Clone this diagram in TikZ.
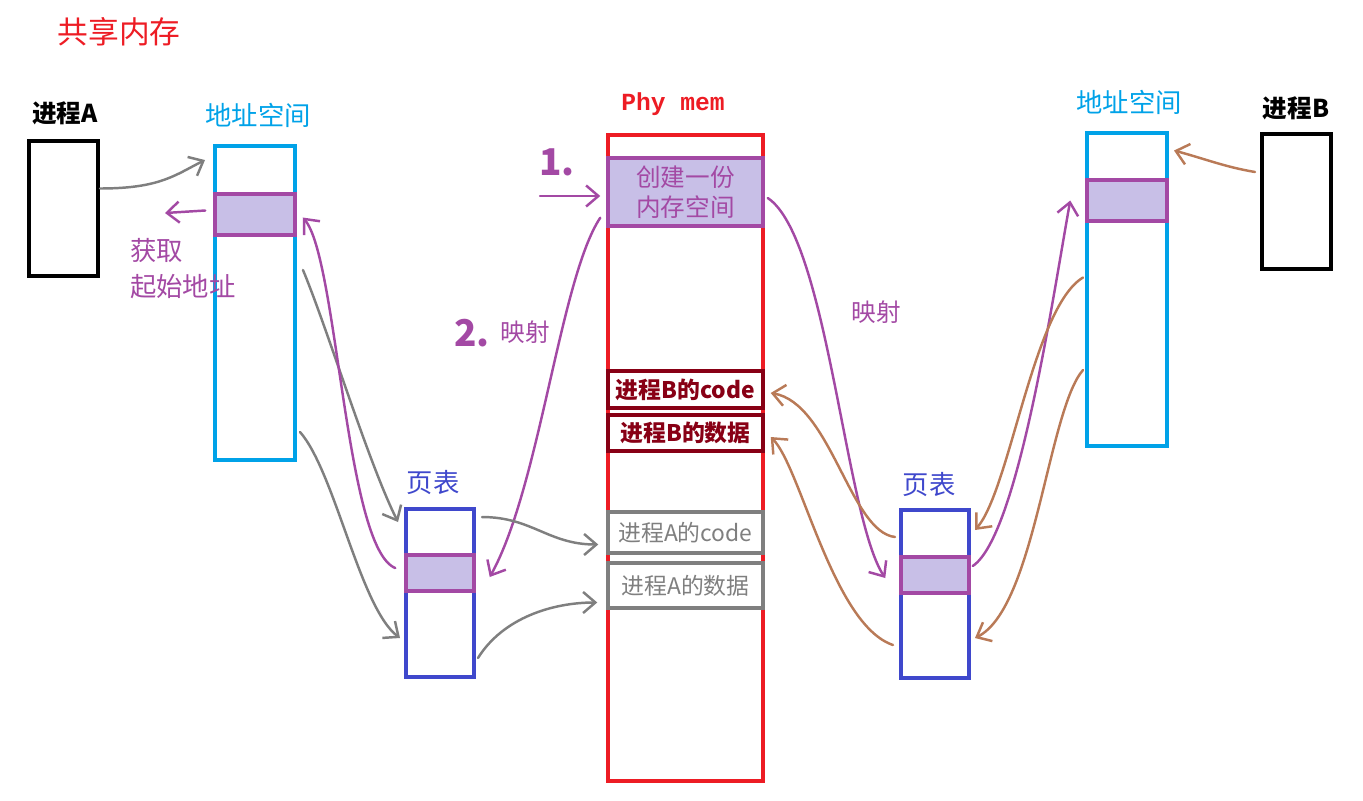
\documentclass[tikz,border=0pt]{standalone}
\usepackage{fontspec}
\setmainfont{Noto Sans CJK SC}
\newfontfamily\monofont{Liberation Mono}
\usetikzlibrary{arrows.meta, calc}

\definecolor{shmred}{RGB}{237, 28, 36}
\definecolor{addrcyan}{RGB}{0, 162, 232}
\definecolor{mapviolet}{RGB}{163, 73, 164}
\definecolor{blklilac}{RGB}{200, 191, 231}
\definecolor{pageblue}{RGB}{63, 72, 204}
\definecolor{codedark}{RGB}{136, 0, 21}
\definecolor{linkgray}{RGB}{127, 127, 127}
\definecolor{linkbrown}{RGB}{185, 122, 87}

\begin{document}
\begin{tikzpicture}[
        x=0.02cm, y=-0.02cm,
        procbox/.style={draw=black, line width=0.08cm, minimum width=1.38cm, minimum height=2.70cm, inner sep=0pt},
        addrbox/.style={draw=addrcyan, line width=0.08cm, minimum width=1.60cm, minimum height=6.28cm, inner sep=0pt},
        pagebox/.style={draw=pageblue, line width=0.08cm, minimum width=1.36cm, minimum height=3.36cm, inner sep=0pt},
        membox/.style={draw=shmred, line width=0.08cm, minimum width=3.10cm, minimum height=12.92cm, inner sep=0pt},
        blk/.style={draw=mapviolet, fill=blklilac, line width=0.07cm, inner sep=0pt},
        seg/.style={fill=white, line width=0.07cm, minimum width=3.10cm, inner sep=0pt, align=center},
        lbl/.style={font=\fontsize{15}{17}\selectfont},
        link/.style={-{Straight Barb[length=7pt, width=12pt]}, line width=1.4pt, line cap=round}
    ]
        \useasboundingbox (0,0) rectangle (1363,801);

        % Title
        \node[text=shmred, font=\fontsize{17.5}{19}\selectfont] (title) at (119,32) {共享内存};

        % Process A, its address space and page table
        \node[lbl, font=\bfseries\fontsize{14}{16}\selectfont] (labA) at (65,113) {进程A};
        \node[procbox] (procA) at (63.5,208.5) {};

        \node[lbl, text=addrcyan] (labAddrA) at (258,115) {地址空间};
        \node[addrbox] (addrA) at (255,303) {};
        \node[blk, minimum width=1.60cm, minimum height=0.82cm] (addrAblk) at (255,214.5) {};

        \node[lbl, text=mapviolet, align=left, anchor=north west, font=\fontsize{15}{20.5}\selectfont] (getA) at (124,232) {获取\\起始地址};
        \coordinate (getend) at (165,213);

        \node[lbl, text=pageblue] (labPageA) at (433,483) {页表};
        \node[pagebox] (pageA) at (440,593) {};
        \node[blk, minimum width=1.36cm, minimum height=0.72cm] (pageAblk) at (440,573) {};

        % Physical memory
        \node[text=shmred, font=\monofont\bfseries\fontsize{14}{16}\selectfont] (labPhy) at (673,104) {Phy mem};
        \node[membox] (phy) at (685.5,458) {};
        \node[blk, minimum width=3.10cm, minimum height=1.36cm, align=center, text=mapviolet,
              font=\fontsize{14}{17}\selectfont] (shm) at (685.5,192) {创建一份\\内存空间};
        \node[seg, draw=codedark, text=codedark, minimum height=0.74cm, font=\bfseries\fontsize{13}{15}\selectfont] (Bcode) at (685.5,389.5) {进程B的code};
        \node[seg, draw=codedark, text=codedark, minimum height=0.72cm, font=\bfseries\fontsize{13}{15}\selectfont] (Bdata) at (685.5,433) {进程B的数据};
        \node[seg, draw=linkgray, text=linkgray, minimum height=0.82cm, font=\fontsize{13}{15}\selectfont] (Acode) at (685.5,532.5) {进程A的code};
        \node[seg, draw=linkgray, text=linkgray, minimum height=0.90cm, font=\fontsize{13}{15}\selectfont] (Adata) at (685.5,585.5) {进程A的数据};

        % Step numbers
        \node[text=mapviolet, font=\bfseries\fontsize{21}{23}\selectfont] (num1) at (557,162) {1.};
        \coordinate (stepstart) at (540,196);
        \node[text=mapviolet, font=\bfseries\fontsize{21}{23}\selectfont] (num2) at (472,333) {2.};
        \node[text=mapviolet, font=\fontsize{14}{16}\selectfont] (mapA) at (525,332) {映射};
        \node[text=mapviolet, font=\fontsize{14}{16}\selectfont] (mapB) at (876,312) {映射};

        % Process B, its address space and page table
        \node[lbl, font=\bfseries\fontsize{14}{16}\selectfont] (labB) at (1296,108) {进程B};
        \node[procbox] (procB) at (1296.5,201.5) {};

        \node[lbl, text=addrcyan] (labAddrB) at (1129,102) {地址空间};
        \node[addrbox] (addrB) at (1127,289.5) {};
        \node[blk, minimum width=1.60cm, minimum height=0.82cm] (addrBblk) at (1127,200.5) {};

        \node[lbl, text=pageblue] (labPageB) at (929,485) {页表};
        \node[pagebox] (pageB) at (935,594) {};
        \node[blk, minimum width=1.36cm, minimum height=0.72cm] (pageBblk) at (935,575) {};

        % Left side links
        \draw[link, linkgray] ($(procA.east)+(0,-20)$) .. controls +(60,0) and +(-30,15) .. ($(addrA.north west)+(-8,16)$);
        \draw[link, mapviolet] ($(addrAblk.west)+(-8,-4)$) -- (getend);
        \draw[link, linkgray] ($(addrA.north east)+(6,126)$) .. controls +(25,60) and +(-30,-60) .. ($(pageA.north west)+(-6,15)$);
        \draw[link, linkgray] ($(addrA.south east)+(3,-30)$) .. controls +(35,40) and +(-40,-30) .. ($(pageA.west)+(-4,45)$);
        \draw[link, mapviolet] ($(pageAblk.west)+(-9,-5)$) .. controls +(-50,-20) and +(35,40) .. ($(addrAblk.east)+(6,3)$);

        % Phy mem links for A
        \draw[link, mapviolet] (stepstart) -- ($(shm.west)+(-6,4)$);
        \draw[link, mapviolet] ($(shm.south west)+(-6,-10)$) .. controls +(-40,60) and +(50,-90) .. ($(pageAblk.east)+(14,4)$);
        \draw[link, linkgray] ($(pageA.north east)+(6,10)$) .. controls +(50,0) and +(-50,0) .. ($(Acode.west)+(-8,12)$);
        \draw[link, linkgray] ($(pageA.south east)+(2,-21)$) .. controls +(25,-40) and +(-45,0) .. ($(Adata.west)+(-9,17)$);

        % Phy mem links for B
        \draw[link, mapviolet] ($(shm.east)+(3,6)$) .. controls +(60,40) and +(-40,-60) .. ($(pageBblk.west)+(-14,3)$);
        \draw[link, mapviolet] ($(pageBblk.east)+(2,-9)$) .. controls +(45,-30) and +(-18,100) .. ($(addrBblk.west)+(-15,0)$);
        \draw[link, linkbrown] ($(procB.west)+(-5,-29.5)$) .. controls +(-30,-5) and +(30,8) .. ($(addrB.north east)+(5,20)$);
        \draw[link, linkbrown] ($(addrB.west)+(-2,-12)$) .. controls +(-50,30) and +(35,-40) .. ($(pageB.north east)+(4,22)$);
        \draw[link, linkbrown] ($(addrB.west)+(-2,80.5)$) .. controls +(-35,40) and +(60,-30) .. ($(pageB.east)+(4,44)$);
        \draw[link, linkbrown] ($(pageB.west)+(-4,-57)$) .. controls +(-45,-5) and +(60,10) .. ($(Bcode.east)+(6,3.5)$);
        \draw[link, linkbrown] ($(pageB.west)+(-6,51)$) .. controls +(-60,-20) and +(30,30) .. ($(Bdata.east)+(6,4)$);
    \end{tikzpicture}
\end{document}
